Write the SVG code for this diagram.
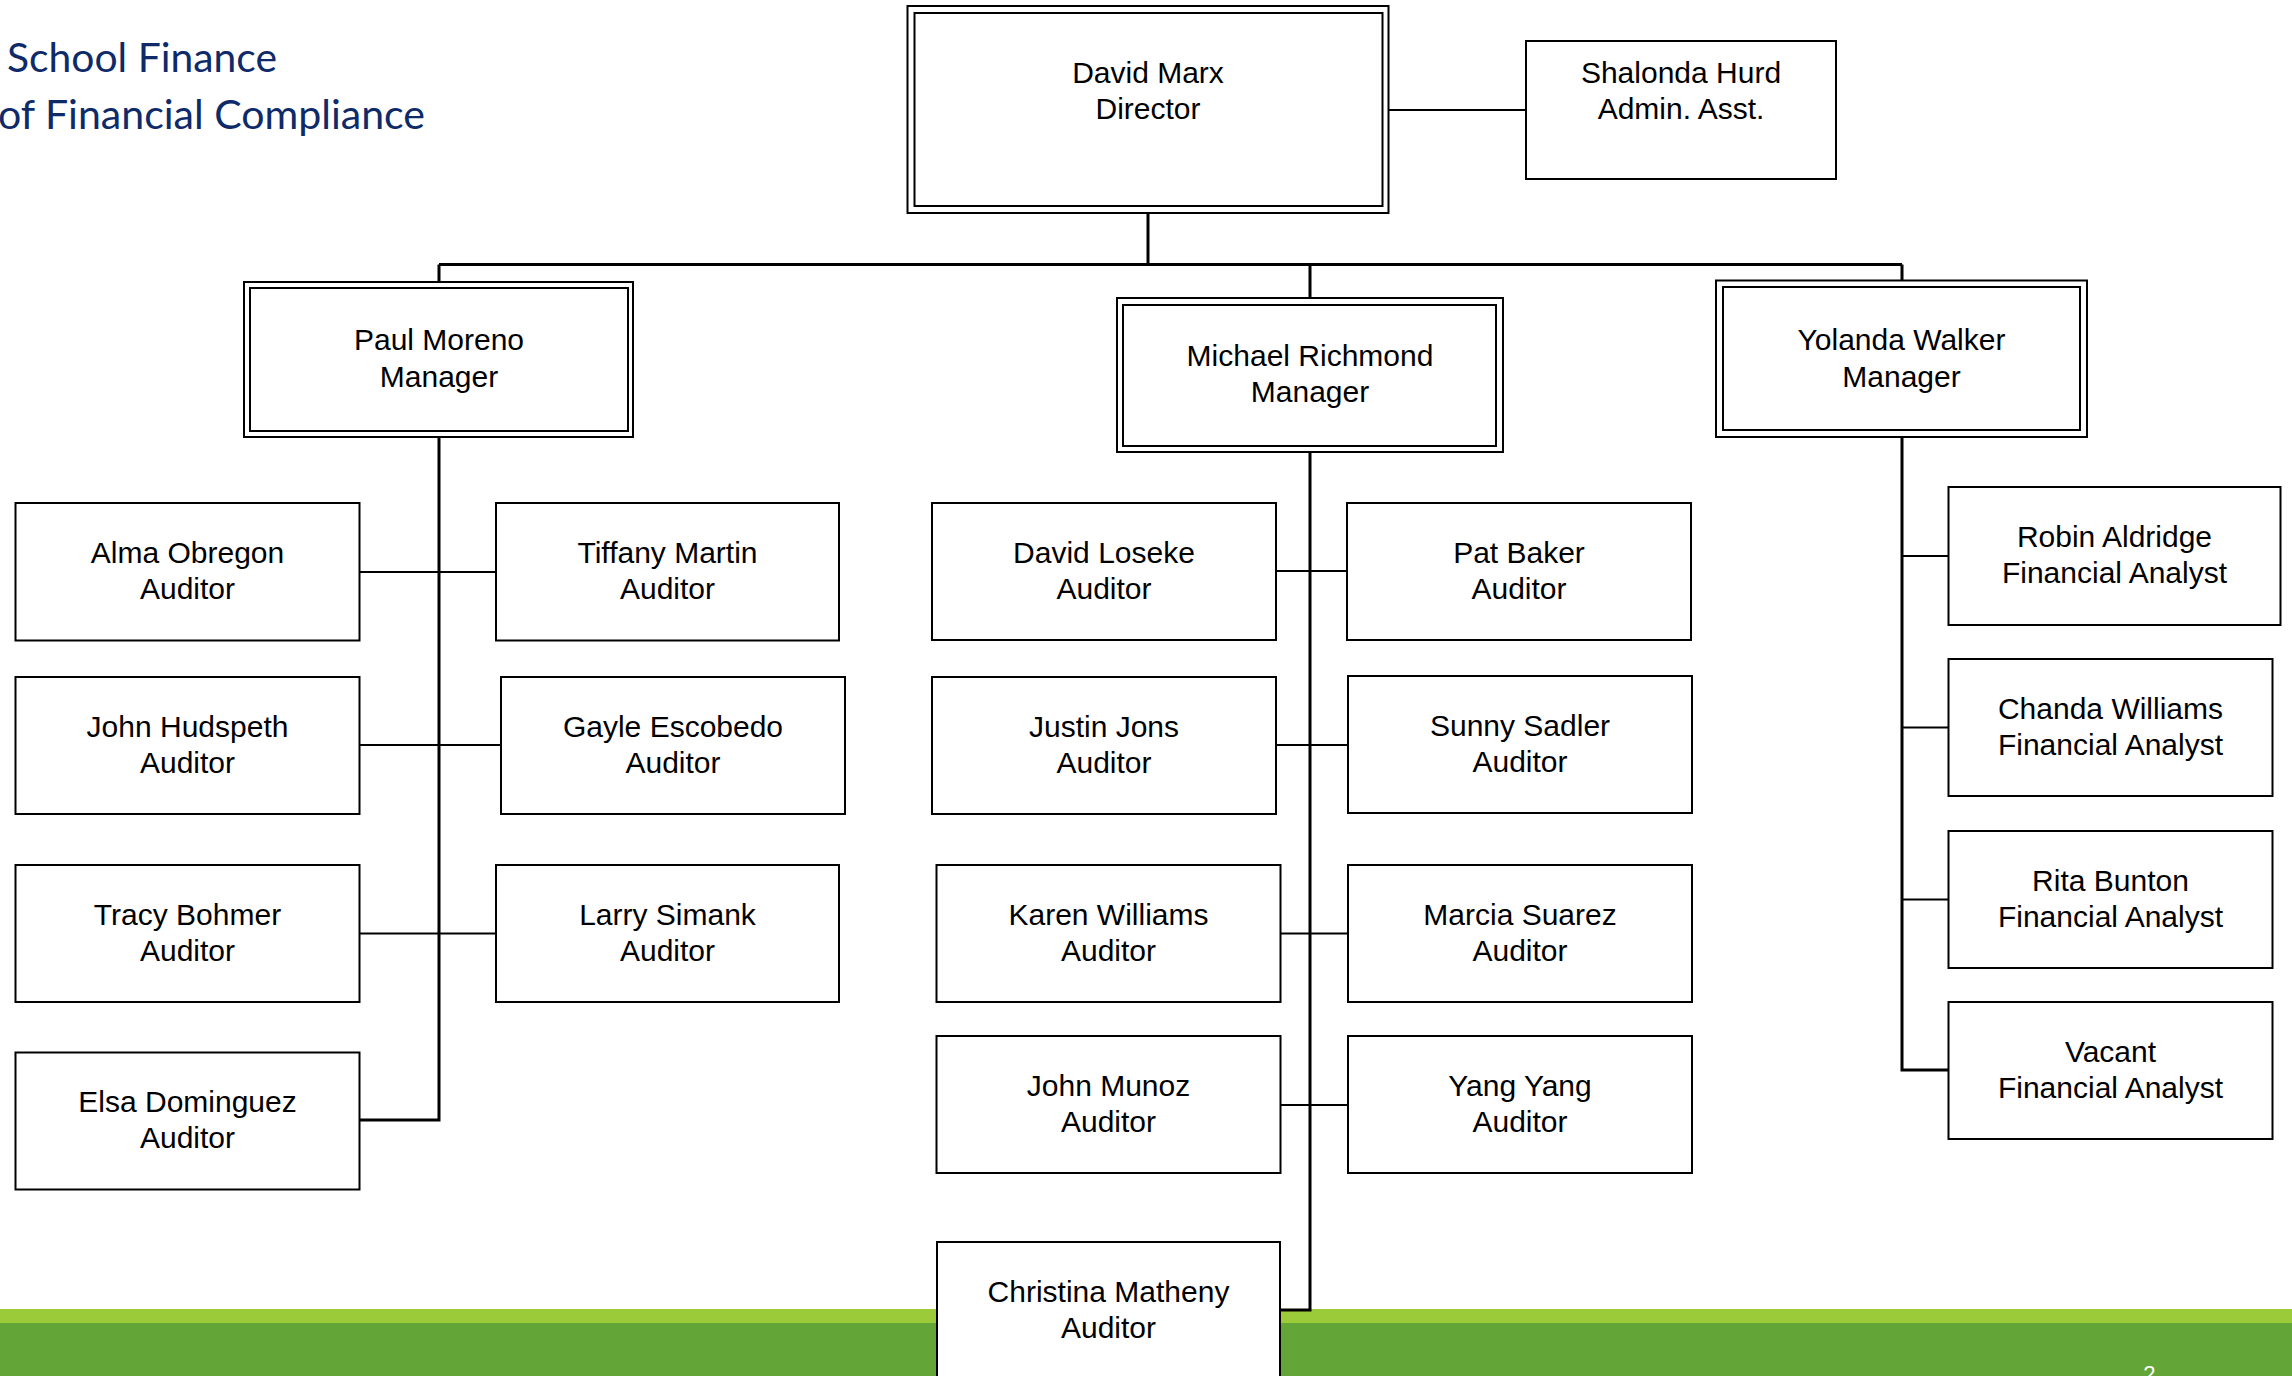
<svg xmlns="http://www.w3.org/2000/svg" width="2292" height="1376" viewBox="0 0 2292 1376">
<style>
.box{fill:#fff;stroke:#000;stroke-width:2}
.t{font-family:"Liberation Sans",Arial,sans-serif;font-size:30px;text-anchor:middle;fill:#000}
.trunk{stroke:#000;stroke-width:3;fill:none}
.br{stroke:#000;stroke-width:2;fill:none}
.title{font-family:Lato,"Open Sans",sans-serif;font-size:40px;fill:#0E2A69}
</style>
<rect width="2292" height="1376" fill="#fff"/>
<g id="title">
<text class="title" x="7" y="72" textLength="270" lengthAdjust="spacingAndGlyphs">School Finance</text>
<text class="title" x="-2" y="129" textLength="427" lengthAdjust="spacingAndGlyphs">of Financial Compliance</text>
</g>
<g id="footer">
<rect x="0" y="1309" width="2292" height="14" fill="#9BCB39"/>
<rect x="0" y="1323" width="2292" height="53" fill="#63A537"/>
<text x="2149.5" y="1381" font-family="Lato,sans-serif" font-size="22" fill="#fff" text-anchor="middle">2</text>
</g>
<g id="connectors">
<path class="br" d="M1388.5 110H1526"/>
<path class="trunk" d="M1148 213V264.5"/>
<path class="trunk" d="M439 264.5H1902"/>
<path class="trunk" d="M439 264.5V282M1310 264.5V298M1902 264.5V280.5"/>
<path class="trunk" d="M439 437V1120H359.5"/>
<path class="br" d="M359.5 572H496M359.5 745H501M359.5 933.5H496"/>
<path class="trunk" d="M1310 452V1310H1280"/>
<path class="br" d="M1276 571H1347M1276 745H1348M1280.5 933.5H1348M1280.5 1105H1348"/>
<path class="trunk" d="M1902 437V1070H1948.5"/>
<path class="br" d="M1902 556H1948.5M1902 727.5H1948.5M1902 899.5H1948.5"/>
</g>
<g id="n-director"><rect class="box" x="907.5" y="6" width="481" height="207"/><rect class="box" x="914.5" y="13" width="468" height="193"/><text class="t" x="1148" y="83">David Marx</text><text class="t" x="1148" y="119">Director</text></g>
<g id="n-shalonda"><rect class="box" x="1526" y="41" width="310" height="138"/><text class="t" x="1681" y="83">Shalonda Hurd</text><text class="t" x="1681" y="119">Admin. Asst.</text></g>
<g id="n-paul"><rect class="box" x="244" y="282" width="389" height="155"/><rect class="box" x="250" y="288" width="378" height="143"/><text class="t" x="439" y="350">Paul Moreno</text><text class="t" x="439" y="387">Manager</text></g>
<g id="n-michael"><rect class="box" x="1117" y="298" width="386" height="154"/><rect class="box" x="1123" y="305" width="373" height="141"/><text class="t" x="1310" y="366">Michael Richmond</text><text class="t" x="1310" y="402">Manager</text></g>
<g id="n-yolanda"><rect class="box" x="1716" y="280.5" width="371" height="156.5"/><rect class="box" x="1723" y="287" width="357" height="143"/><text class="t" x="1901.5" y="350">Yolanda Walker</text><text class="t" x="1901.5" y="387">Manager</text></g>
<g id="n-alma"><rect class="box" x="15.5" y="503" width="344" height="137.5"/><text class="t" x="187.5" y="563">Alma Obregon</text><text class="t" x="187.5" y="599">Auditor</text></g>
<g id="n-tiffany"><rect class="box" x="496" y="503" width="343" height="137.5"/><text class="t" x="667.5" y="563">Tiffany Martin</text><text class="t" x="667.5" y="599">Auditor</text></g>
<g id="n-hudspeth"><rect class="box" x="15.5" y="677" width="344" height="137"/><text class="t" x="187.5" y="736.5">John Hudspeth</text><text class="t" x="187.5" y="772.5">Auditor</text></g>
<g id="n-gayle"><rect class="box" x="501" y="677" width="344" height="137"/><text class="t" x="673" y="736.5">Gayle Escobedo</text><text class="t" x="673" y="772.5">Auditor</text></g>
<g id="n-tracy"><rect class="box" x="15.5" y="865" width="344" height="137"/><text class="t" x="187.5" y="924.5">Tracy Bohmer</text><text class="t" x="187.5" y="960.5">Auditor</text></g>
<g id="n-larry"><rect class="box" x="496" y="865" width="343" height="137"/><text class="t" x="667.5" y="924.5">Larry Simank</text><text class="t" x="667.5" y="960.5">Auditor</text></g>
<g id="n-elsa"><rect class="box" x="15.5" y="1052.5" width="344" height="137"/><text class="t" x="187.5" y="1112">Elsa Dominguez</text><text class="t" x="187.5" y="1148">Auditor</text></g>
<g id="n-loseke"><rect class="box" x="932" y="503" width="344" height="137"/><text class="t" x="1104" y="562.5">David Loseke</text><text class="t" x="1104" y="598.5">Auditor</text></g>
<g id="n-baker"><rect class="box" x="1347" y="503" width="344" height="137"/><text class="t" x="1519" y="562.5">Pat Baker</text><text class="t" x="1519" y="598.5">Auditor</text></g>
<g id="n-jons"><rect class="box" x="932" y="677" width="344" height="137"/><text class="t" x="1104" y="736.5">Justin Jons</text><text class="t" x="1104" y="772.5">Auditor</text></g>
<g id="n-sadler"><rect class="box" x="1348" y="676" width="344" height="137"/><text class="t" x="1520" y="735.5">Sunny Sadler</text><text class="t" x="1520" y="771.5">Auditor</text></g>
<g id="n-karen"><rect class="box" x="936.5" y="865" width="344" height="137"/><text class="t" x="1108.5" y="924.5">Karen Williams</text><text class="t" x="1108.5" y="960.5">Auditor</text></g>
<g id="n-suarez"><rect class="box" x="1348" y="865" width="344" height="137"/><text class="t" x="1520" y="924.5">Marcia Suarez</text><text class="t" x="1520" y="960.5">Auditor</text></g>
<g id="n-munoz"><rect class="box" x="936.5" y="1036" width="344" height="137"/><text class="t" x="1108.5" y="1095.5">John Munoz</text><text class="t" x="1108.5" y="1131.5">Auditor</text></g>
<g id="n-yang"><rect class="box" x="1348" y="1036" width="344" height="137"/><text class="t" x="1520" y="1095.5">Yang Yang</text><text class="t" x="1520" y="1131.5">Auditor</text></g>
<g id="n-christina"><rect class="box" x="937" y="1242" width="343" height="137"/><text class="t" x="1108.5" y="1302">Christina Matheny</text><text class="t" x="1108.5" y="1338">Auditor</text></g>
<g id="n-robin"><rect class="box" x="1948.5" y="487" width="332" height="138"/><text class="t" x="2114.5" y="547">Robin Aldridge</text><text class="t" x="2114.5" y="583">Financial Analyst</text></g>
<g id="n-chanda"><rect class="box" x="1948.5" y="659" width="324" height="137"/><text class="t" x="2110.5" y="718.5">Chanda Williams</text><text class="t" x="2110.5" y="754.5">Financial Analyst</text></g>
<g id="n-rita"><rect class="box" x="1948.5" y="831" width="324" height="137"/><text class="t" x="2110.5" y="890.5">Rita Bunton</text><text class="t" x="2110.5" y="926.5">Financial Analyst</text></g>
<g id="n-vacant"><rect class="box" x="1948.5" y="1002" width="324" height="137"/><text class="t" x="2110.5" y="1061.5">Vacant</text><text class="t" x="2110.5" y="1097.5">Financial Analyst</text></g>
</svg>
